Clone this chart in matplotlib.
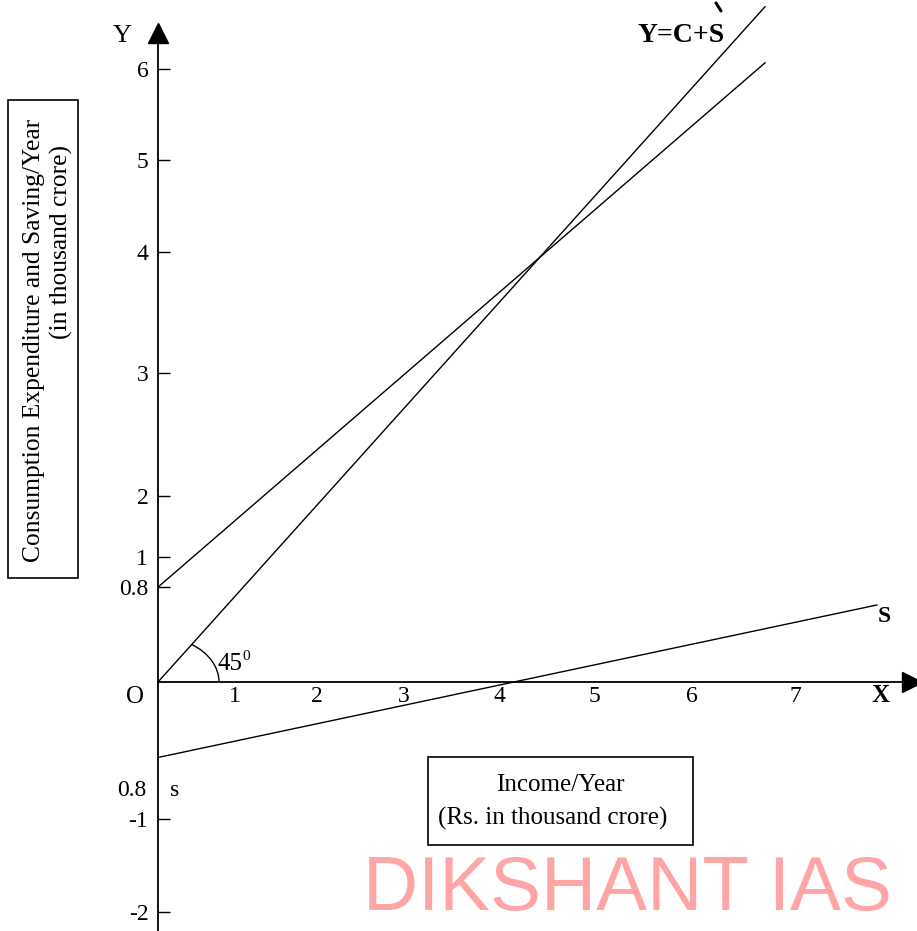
import numpy as np
import matplotlib
matplotlib.use("Agg")
import matplotlib.pyplot as plt
from matplotlib.patches import Arc, Rectangle

# ---------------- data (chart units) ----------------
x_tick_labels = ['1', '2', '3', '4', '5', '6', '7']
x_tick_pos = [0.85, 1.75, 2.70, 3.75, 4.80, 5.87, 7.00]
y_tick_labels = ['6', '5', '4', '3', '2', '1', '0.8', '-1', '-2']
y_tick_pos = [6.01, 5.12, 4.22, 3.03, 1.82, 1.23, 0.93, -1.34, -2.25]

income = [0.0, 6.67]
consumption = [0.93, 6.07]
income_line = [0.0, 6.62]      # Y = C + S (45 degree line)
saving_x = [0.0, 7.90]
saving = [-0.74, 0.755]

# ---------------- layout ----------------
W, H = 917, 931
OX, OY = 158, 682      # origin in pixels
SX, SY = 91.0, 102.0   # pixels per chart unit


def d(px, py):
    return ((px - OX) / SX, (OY - py) / SY)


plt.rcParams['font.family'] = ['Liberation Serif', 'DejaVu Serif']

fig = plt.figure(figsize=(W / 100, H / 100), dpi=100)
ax = fig.add_axes([0, 0, 1, 1])
ax.set_xlim(d(0, 0)[0], d(W, 0)[0])
ax.set_ylim(d(0, H)[1], d(0, 0)[1])
ax.patch.set_visible(False)

for s in ('top', 'right'):
    ax.spines[s].set_visible(False)
ax.spines['left'].set_position(('data', 0))
ax.spines['bottom'].set_position(('data', 0))
ax.spines['left'].set_bounds(d(0, H)[1], d(0, 40)[1])
ax.spines['bottom'].set_bounds(0, d(908, 0)[0])
ax.spines['left'].set_linewidth(1.3)
ax.spines['bottom'].set_linewidth(1.3)

ax.set_yticks(y_tick_pos, y_tick_labels)
ax.tick_params(axis='y', direction='in', length=8.5, width=1.0, pad=7, labelsize=17)
ax.set_xticks(x_tick_pos, x_tick_labels)
ax.tick_params(axis='x', length=0, pad=3, labelsize=17)

# arrow heads
ax.plot([0], [d(0, 33)[1]], marker='^', ms=14, color='black', clip_on=False)
ax.plot([d(912, 0)[0]], [0], marker='>', ms=15, color='black', clip_on=False)

# lines
ax.plot(income, consumption, color='black', lw=1.0)
ax.plot(income, income_line, color='black', lw=1.0)
ax.plot(saving_x, saving, color='black', lw=1.0)

# 45 degree arc
theta = np.degrees(np.arctan2(income_line[1], income[1]))
ax.add_patch(Arc((0, 0), 2 * 61 / SX, 2 * 45 / SY, theta1=0, theta2=theta,
                 color='black', lw=1.0))
ax.text(*d(217, 664), '45', fontsize=18, ha='left', va='center')
ax.text(*d(246, 657), '0', fontsize=11, ha='center', va='center')

# axis letters and labels
ax.text(*d(122, 36), 'Y', fontsize=19, ha='center', va='center')
ax.text(*d(135, 697), 'O', fontsize=18, ha='center', va='center')
ax.text(*d(880, 696), 'X', fontsize=18, fontweight='bold', ha='center', va='center')
ax.text(*d(884, 616), 'S', fontsize=17, fontweight='bold', ha='center', va='center')
ax.text(*d(681, 35), 'Y=C+S', fontsize=20, fontweight='bold', ha='center', va='center')
ax.plot(*zip(d(716, 3), d(721, 11)), color='black', lw=2.2, solid_capstyle='round')
ax.text(*d(132, 790), '0.8', fontsize=17, ha='center', va='center')
ax.text(*d(175, 790), 's', fontsize=17, ha='center', va='center')

# y label box
x0, y0 = d(8, 578)
x1, y1 = d(78, 100)
ax.add_patch(Rectangle((x0, y0), x1 - x0, y1 - y0, fill=False, lw=1.2, color='black'))
ax.text(*d(34, 340), 'Consumption Expenditure and Saving/Year', fontsize=18.4,
        rotation=90, ha='center', va='center')
ax.text(*d(61, 242), '(in thousand crore)', fontsize=18.4,
        rotation=90, ha='center', va='center')

# x label box
x0, y0 = d(428, 845)
x1, y1 = d(693, 757)
ax.add_patch(Rectangle((x0, y0), x1 - x0, y1 - y0, fill=False, lw=1.2, color='black'))
ax.text(*d(560, 785), 'Income/Year', fontsize=18, ha='center', va='center')
ax.text(*d(553, 818), '(Rs. in thousand crore)', fontsize=18, ha='center', va='center')

# watermark
ax.text(*d(363, 910), 'DIKSHANT IAS', family=['Liberation Sans', 'DejaVu Sans'],
        fontsize=55, color='#FFA5A5', ha='left', va='baseline')

fig.savefig('out.png', dpi=100)
